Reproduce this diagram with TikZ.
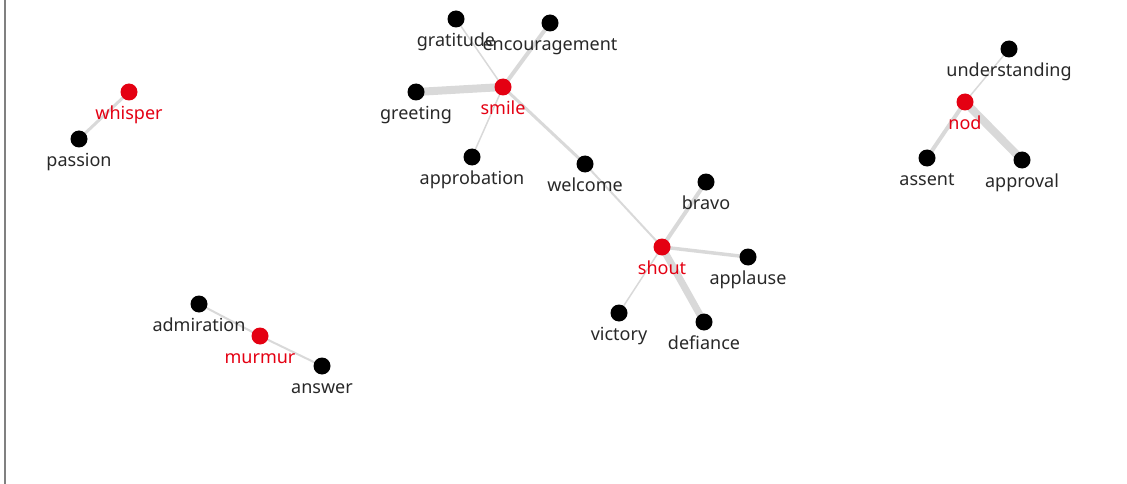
\documentclass[tikz,border=0pt]{standalone}
\usepackage{fontspec}
\setmainfont{Noto Sans}
\usetikzlibrary{backgrounds}
\definecolor{hubred}{RGB}{228,0,18}
\definecolor{edgegray}{RGB}{217,217,217}
\definecolor{txtgray}{RGB}{40,40,40}
\tikzset{
  dot/.style={circle,fill=black,inner sep=0pt,minimum size=17pt,
    label={[anchor=base,label distance=18.5pt,font=\fontsize{18}{21}\selectfont,text=txtgray]270:#1}},
  hub/.style={circle,fill=hubred,inner sep=0pt,minimum size=17pt,
    label={[anchor=base,label distance=18.5pt,font=\fontsize{18}{21}\selectfont,text=hubred]270:#1}},
  link/.style={draw=edgegray,line width=#1},
  link/.default=2pt
}
\begin{document}
\begin{tikzpicture}[x=1pt,y=-1pt]
\useasboundingbox (0,0) rectangle (1127,484);
\draw[gray,line width=1.2pt] (5,0) -- (5,484);
% whisper
\node[hub=whisper] (whisper) at (129,92) {};
\node[dot=passion] (passion) at (79,139) {};
% murmur
\node[hub=murmur] (murmur) at (260,336) {};
\node[dot=admiration] (admiration) at (199,304) {};
\node[dot=answer] (answer) at (322,366) {};
% smile
\node[hub=smile] (smile) at (503,87) {};
\node[dot=gratitude] (gratitude) at (456,19) {};
\node[dot=encouragement] (encouragement) at (550,23) {};
\node[dot=greeting] (greeting) at (416,92) {};
\node[dot=approbation] (approbation) at (472,157) {};
\node[dot=welcome] (welcome) at (585,164) {};
% shout
\node[hub=shout] (shout) at (662,247) {};
\node[dot=bravo] (bravo) at (706,182) {};
\node[dot=applause] (applause) at (748,257) {};
\node[dot=victory] (victory) at (619,313) {};
\node[dot=defiance] (defiance) at (704,322) {};
% nod
\node[hub=nod] (nod) at (965,102) {};
\node[dot=understanding] (understanding) at (1009,49) {};
\node[dot=assent] (assent) at (927,158) {};
\node[dot=approval] (approval) at (1022,160) {};
\begin{scope}[on background layer]
\path[link=3pt] (whisper.center) -- (passion.center);
\path[link=2pt] (murmur.center) -- (admiration.center);
\path[link=2pt] (murmur.center) -- (answer.center);
\path[link=1.5pt] (smile.center) -- (gratitude.center);
\path[link=4pt] (smile.center) -- (encouragement.center);
\path[link=8pt] (smile.center) -- (greeting.center);
\path[link=1.5pt] (smile.center) -- (approbation.center);
\path[link=3pt] (smile.center) -- (welcome.center);
\path[link=2pt] (welcome.center) -- (shout.center);
\path[link=4pt] (shout.center) -- (bravo.center);
\path[link=3.5pt] (shout.center) -- (applause.center);
\path[link=1.5pt] (shout.center) -- (victory.center);
\path[link=7pt] (shout.center) -- (defiance.center);
\path[link=1.5pt] (nod.center) -- (understanding.center);
\path[link=4pt] (nod.center) -- (assent.center);
\path[link=8pt] (nod.center) -- (approval.center);
\end{scope}
\end{tikzpicture}
\end{document}
